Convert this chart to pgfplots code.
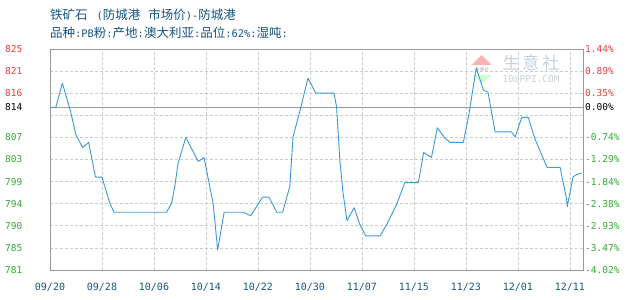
\documentclass[border=0pt]{standalone}
\usepackage{pgfplots}
\pgfplotsset{compat=1.18}
\usepackage{fontspec}
\newfontfamily\cjk{Noto Sans CJK SC}
\newfontfamily\mono{DejaVu Sans Mono}
\definecolor{titleblue}{RGB}{22,84,130}
\definecolor{upred}{RGB}{240,60,60}
\definecolor{dngreen}{RGB}{50,170,50}
\definecolor{linecol}{RGB}{58,154,217}
\definecolor{gridc}{RGB}{204,204,204}
\definecolor{framec}{RGB}{153,153,153}
\definecolor{wm}{RGB}{200,208,220}
\newcommand{\asc}[1]{{\mono\fontsize{10.4bp}{12bp}\selectfont #1}}
\pgfplotstableread{
x v
0.0 813.4
0.9 813.4
1.9 818.2
3.1 812.9
4.0 807.9
5.0 805.4
5.95 806.4
7.0 799.5
8.0 799.5
9.2 794.3
9.85 792.5
17.95 792.5
18.7 794.3
19.2 797.6
19.7 802.2
20.9 807.4
22.8 802.6
23.7 803.4
25.1 794.3
25.8 785.0
26.8 792.5
29.7 792.5
30.9 791.8
32.7 795.5
33.7 795.5
34.9 792.5
35.8 792.5
36.9 797.6
37.4 807.5
38.5 812.9
39.7 819.2
40.9 816.2
43.7 816.2
44.1 813.5
44.6 802.9
45.1 796.3
45.7 790.8
46.8 793.4
47.7 790.0
48.6 787.8
50.8 787.8
51.8 790.0
53.3 793.9
54.6 798.4
56.7 798.4
57.5 804.4
58.7 803.4
59.6 809.3
60.8 807.2
61.6 806.4
63.6 806.4
64.4 811.5
65.6 821.2
66.7 816.8
67.4 816.4
68.5 808.5
71.0 808.5
71.6 807.5
72.6 811.4
73.6 811.4
74.6 807.2
76.5 801.4
78.5 801.4
79.5 795.1
79.6 793.6
80.5 799.6
81.3 800.1
81.8 800.3
}\pricedata
\begin{document}
\begin{tikzpicture}
\useasboundingbox (-50bp,-30bp) rectangle (580bp,270bp);
% titles
\node[anchor=west,inner sep=0pt,text=titleblue,font=\cjk\fontsize{12.5bp}{14bp}\selectfont] at (0bp,255.5bp) {铁矿石\hspace{9bp}\asc{(}防城港\hspace{8bp}市场价\asc{)-}防城港};
\node[anchor=west,inner sep=0pt,text=titleblue,font=\cjk\fontsize{12.5bp}{14bp}\selectfont] at (0bp,237.5bp) {品种\asc{:PB}粉\asc{:}产地\asc{:}澳大利亚\asc{:}品位\asc{:62\%:}湿吨\asc{:}};
% watermark
\fill[red!30] (421.7bp,205bp) -- (441.7bp,205bp) -- (431.7bp,215bp) -- cycle;
\fill[green!20] (423bp,195bp) -- (442bp,195bp) -- (432.5bp,187bp) -- cycle;
\node[inner sep=0pt,text=gray!70,font=\cjk\fontsize{4.5bp}{5bp}\selectfont] at (432bp,200bp) {生意社};
\node[inner sep=0pt,text=wm,font=\cjk\fontsize{17bp}{18bp}\selectfont] at (481bp,207.5bp) {生\,意\,社};
\node[inner sep=0pt,text=wm,font=\mono\fontsize{9.5bp}{10bp}\selectfont] at (481bp,191bp) {100PPI.COM};
\begin{axis}[
  scale only axis, width=533.5bp, height=221bp,
  xmin=0, xmax=82.1, ymin=781, ymax=825,
  axis line style={draw=framec, line width=0.9bp},
  xtick={0,8,16,24,32,40,48,56,64,72,80},
  xticklabels={09/20,09/28,10/06,10/14,10/22,10/30,11/07,11/15,11/23,12/01,12/11},
  ytick={781,785.4,789.8,794.2,798.6,803,807.4,811.8,816.2,820.6,825},
  yticklabels={\textcolor{dngreen}{781},\textcolor{dngreen}{785},\textcolor{dngreen}{790},\textcolor{dngreen}{794},\textcolor{dngreen}{799},\textcolor{dngreen}{803},\textcolor{dngreen}{807},{},\textcolor{upred}{816},\textcolor{upred}{821},\textcolor{upred}{825}},
  extra y ticks={813.4}, extra y tick labels={814},
  extra y tick style={grid=major, major grid style={solid, draw=framec, line width=0.9bp}},
  grid=major,
  major grid style={draw=gridc, dash pattern=on 3bp off 2bp, line width=0.7bp},
  tick style={draw=none},
  xticklabel style={font=\mono\fontsize{10bp}{11bp}\selectfont, text=titleblue, anchor=center, inner sep=0pt, yshift=-17bp},
  yticklabel style={font=\mono\fontsize{9.5bp}{10bp}\selectfont, anchor=west, inner sep=0pt, xshift=-45bp},
  /pgf/number format/assume math mode=true,
]
\addplot[linecol, line width=0.9bp, line join=round] table[x=x,y=v] {\pricedata};
\end{axis}
\begin{axis}[
  scale only axis, width=533.5bp, height=221bp,
  xmin=0, xmax=82.1, ymin=781, ymax=825,
  axis x line=none, axis y line*=right,
  axis line style={draw=framec, line width=0.9bp},
  ytick={781,785.4,789.8,794.2,798.6,803,807.4,813.4,816.2,820.6,825},
  yticklabels={\textcolor{dngreen}{-4.02\%},\textcolor{dngreen}{-3.47\%},\textcolor{dngreen}{-2.93\%},\textcolor{dngreen}{-2.38\%},\textcolor{dngreen}{-1.84\%},\textcolor{dngreen}{-1.29\%},\textcolor{dngreen}{-0.74\%},0.00\%,\textcolor{upred}{0.35\%},\textcolor{upred}{0.89\%},\textcolor{upred}{1.44\%}},
  tick style={draw=none},
  yticklabel style={font=\mono\fontsize{9.5bp}{10bp}\selectfont, anchor=west, inner sep=0pt, xshift=1.5bp},
]
\end{axis}
\end{tikzpicture}
\end{document}
